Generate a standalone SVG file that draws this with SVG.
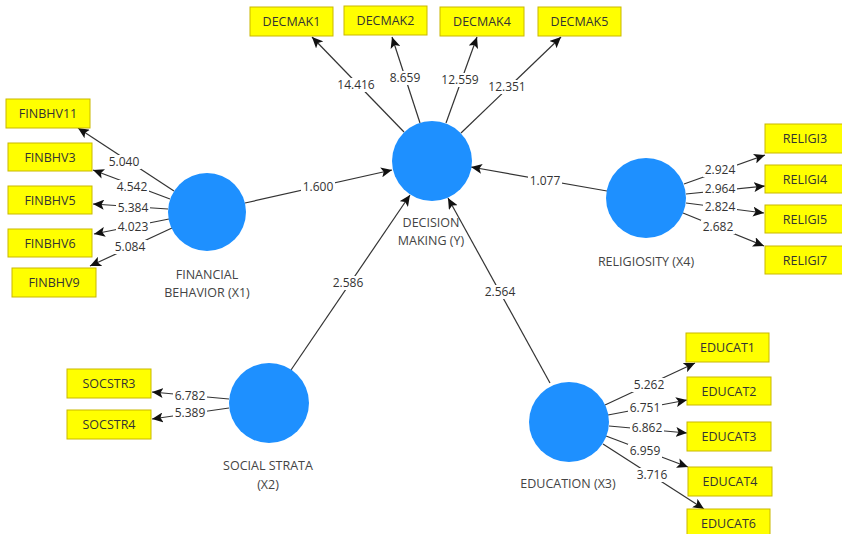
<svg xmlns="http://www.w3.org/2000/svg" width="842" height="534" viewBox="0 0 842 534">
<style>
.box{fill:#ffff00;stroke:#c9b800;stroke-width:1}
.bt{font-family:"Open Sans","Liberation Sans",sans-serif;font-size:12.5px;fill:#333;text-anchor:middle}
.lv{fill:#1e90ff}
.lt{font-family:"Open Sans","Liberation Sans",sans-serif;font-size:12.5px;fill:#444;text-anchor:middle}
.c{stroke:#333;stroke-width:1.2;fill:none;marker-end:url(#ah)}
.n{font-family:"Open Sans","Liberation Sans",sans-serif;font-size:12px;fill:#333;text-anchor:middle}
.bg{fill:#fff}
</style>
<defs>
<marker id="ah" markerUnits="userSpaceOnUse" markerWidth="12" markerHeight="10" refX="11" refY="5" orient="auto">
<path d="M0,0 L11,5 L0,10 L2.5,5 z" fill="#111"/>
</marker>
<rect id="b5" x="-17" y="-11" width="34" height="14" class="bg"/>
<rect id="b6" x="-20" y="-11" width="40" height="14" class="bg"/>
</defs>
<rect width="842" height="534" fill="#fff"/>
<g id="connectors">
<line class="c" x1="174" y1="191" x2="78" y2="128"/>
<line class="c" x1="170" y1="199" x2="93" y2="170"/>
<line class="c" x1="168" y1="209" x2="93" y2="204"/>
<line class="c" x1="169" y1="219" x2="94" y2="234"/>
<line class="c" x1="172" y1="228" x2="90" y2="266"/>
<line class="c" x1="404" y1="132" x2="312" y2="37"/>
<line class="c" x1="420" y1="123" x2="392" y2="37"/>
<line class="c" x1="446" y1="123" x2="477" y2="37"/>
<line class="c" x1="461" y1="133" x2="561" y2="37"/>
<line class="c" x1="684" y1="184" x2="765" y2="155"/>
<line class="c" x1="686" y1="194" x2="765" y2="186"/>
<line class="c" x1="686" y1="203" x2="764" y2="213"/>
<line class="c" x1="683" y1="213" x2="764" y2="246"/>
<line class="c" x1="229" y1="399" x2="152" y2="392"/>
<line class="c" x1="229" y1="408" x2="152" y2="419"/>
<line class="c" x1="605" y1="405" x2="695" y2="363"/>
<line class="c" x1="608" y1="415" x2="687" y2="400"/>
<line class="c" x1="609" y1="426" x2="687" y2="433"/>
<line class="c" x1="606" y1="436" x2="688" y2="467"/>
<line class="c" x1="603" y1="444" x2="704" y2="509"/>
<line class="c" x1="245" y1="203" x2="392" y2="170"/>
<line class="c" x1="291" y1="370" x2="410" y2="195"/>
<line class="c" x1="550" y1="383" x2="448" y2="198"/>
<line class="c" x1="607" y1="191" x2="471" y2="167"/>
<use href="#b5" x="124" y="166"/><text class="n" x="124" y="166">5.040</text>
<use href="#b5" x="132" y="191"/><text class="n" x="132" y="191">4.542</text>
<use href="#b5" x="133" y="212"/><text class="n" x="133" y="212">5.384</text>
<use href="#b5" x="133" y="231"/><text class="n" x="133" y="231">4.023</text>
<use href="#b5" x="130" y="251"/><text class="n" x="130" y="251">5.084</text>
<use href="#b6" x="356" y="89"/><text class="n" x="356" y="89">14.416</text>
<use href="#b5" x="405" y="82"/><text class="n" x="405" y="82">8.659</text>
<use href="#b6" x="460" y="84"/><text class="n" x="460" y="84">12.559</text>
<use href="#b6" x="507" y="91"/><text class="n" x="507" y="91">12.351</text>
<use href="#b5" x="720" y="174"/><text class="n" x="720" y="174">2.924</text>
<use href="#b5" x="720" y="193"/><text class="n" x="720" y="193">2.964</text>
<use href="#b5" x="720" y="211"/><text class="n" x="720" y="211">2.824</text>
<use href="#b5" x="718" y="231"/><text class="n" x="718" y="231">2.682</text>
<use href="#b5" x="190" y="400"/><text class="n" x="190" y="400">6.782</text>
<use href="#b5" x="190" y="417"/><text class="n" x="190" y="417">5.389</text>
<use href="#b5" x="649" y="389"/><text class="n" x="649" y="389">5.262</text>
<use href="#b5" x="645" y="412"/><text class="n" x="645" y="412">6.751</text>
<use href="#b5" x="647" y="432"/><text class="n" x="647" y="432">6.862</text>
<use href="#b5" x="645" y="455"/><text class="n" x="645" y="455">6.959</text>
<use href="#b5" x="652" y="479"/><text class="n" x="652" y="479">3.716</text>
<use href="#b5" x="318" y="191"/><text class="n" x="318" y="191">1.600</text>
<use href="#b5" x="348" y="287"/><text class="n" x="348" y="287">2.586</text>
<use href="#b5" x="500" y="296"/><text class="n" x="500" y="296">2.564</text>
<use href="#b5" x="545" y="185"/><text class="n" x="545" y="185">1.077</text>
</g>
<g id="decision-making"><circle class="lv" cx="432" cy="161" r="40"/><text class="lt" x="431" y="227">DECISION</text><text class="lt" x="431" y="245">MAKING (Y)</text></g>
<g id="financial-behavior"><circle class="lv" cx="207" cy="212" r="39"/><text class="lt" x="207" y="279">FINANCIAL</text><text class="lt" x="207" y="297">BEHAVIOR (X1)</text></g>
<g id="religiosity"><circle class="lv" cx="646" cy="198" r="40"/><text class="lt" x="646" y="266">RELIGIOSITY (X4)</text></g>
<g id="social-strata"><circle class="lv" cx="269" cy="403" r="40"/><text class="lt" x="268" y="470">SOCIAL STRATA</text><text class="lt" x="268" y="489">(X2)</text></g>
<g id="education"><circle class="lv" cx="569" cy="422" r="40"/><text class="lt" x="568" y="488">EDUCATION (X3)</text></g>
<g id="FINBHV11"><rect class="box" x="6" y="99" width="84" height="29"/><text class="bt" x="48" y="118">FINBHV11</text></g>
<g id="FINBHV3"><rect class="box" x="8" y="143" width="84" height="28"/><text class="bt" x="50" y="161.5">FINBHV3</text></g>
<g id="FINBHV5"><rect class="box" x="8" y="186" width="84" height="28"/><text class="bt" x="50" y="204.5">FINBHV5</text></g>
<g id="FINBHV6"><rect class="box" x="8" y="229" width="84" height="28"/><text class="bt" x="50" y="247.5">FINBHV6</text></g>
<g id="FINBHV9"><rect class="box" x="12" y="268" width="84" height="29"/><text class="bt" x="54" y="287">FINBHV9</text></g>
<g id="DECMAK1"><rect class="box" x="250" y="7" width="83" height="29"/><text class="bt" x="291.5" y="26">DECMAK1</text></g>
<g id="DECMAK2"><rect class="box" x="344" y="6" width="83" height="29"/><text class="bt" x="385.5" y="25">DECMAK2</text></g>
<g id="DECMAK4"><rect class="box" x="440" y="7" width="84" height="29"/><text class="bt" x="482" y="26">DECMAK4</text></g>
<g id="DECMAK5"><rect class="box" x="538" y="7" width="83" height="29"/><text class="bt" x="579.5" y="26">DECMAK5</text></g>
<g id="RELIGI3"><rect class="box" x="765" y="124" width="84" height="29"/><text class="bt" x="805" y="143">RELIGI3</text></g>
<g id="RELIGI4"><rect class="box" x="765" y="165" width="84" height="28"/><text class="bt" x="805" y="183.5">RELIGI4</text></g>
<g id="RELIGI5"><rect class="box" x="765" y="205" width="84" height="28"/><text class="bt" x="805" y="223.5">RELIGI5</text></g>
<g id="RELIGI7"><rect class="box" x="765" y="246" width="84" height="28"/><text class="bt" x="805" y="264.5">RELIGI7</text></g>
<g id="SOCSTR3"><rect class="box" x="67" y="369" width="84" height="29"/><text class="bt" x="109" y="388">SOCSTR3</text></g>
<g id="SOCSTR4"><rect class="box" x="67" y="410" width="84" height="29"/><text class="bt" x="109" y="429">SOCSTR4</text></g>
<g id="EDUCAT1"><rect class="box" x="686" y="333" width="83" height="29"/><text class="bt" x="727.5" y="352">EDUCAT1</text></g>
<g id="EDUCAT2"><rect class="box" x="687" y="377" width="84" height="28"/><text class="bt" x="729" y="395.5">EDUCAT2</text></g>
<g id="EDUCAT3"><rect class="box" x="687" y="422" width="84" height="29"/><text class="bt" x="729" y="441">EDUCAT3</text></g>
<g id="EDUCAT4"><rect class="box" x="688" y="467" width="84" height="29"/><text class="bt" x="730" y="486">EDUCAT4</text></g>
<g id="EDUCAT6"><rect class="box" x="687" y="509" width="83" height="29"/><text class="bt" x="728.5" y="528">EDUCAT6</text></g>
</svg>
